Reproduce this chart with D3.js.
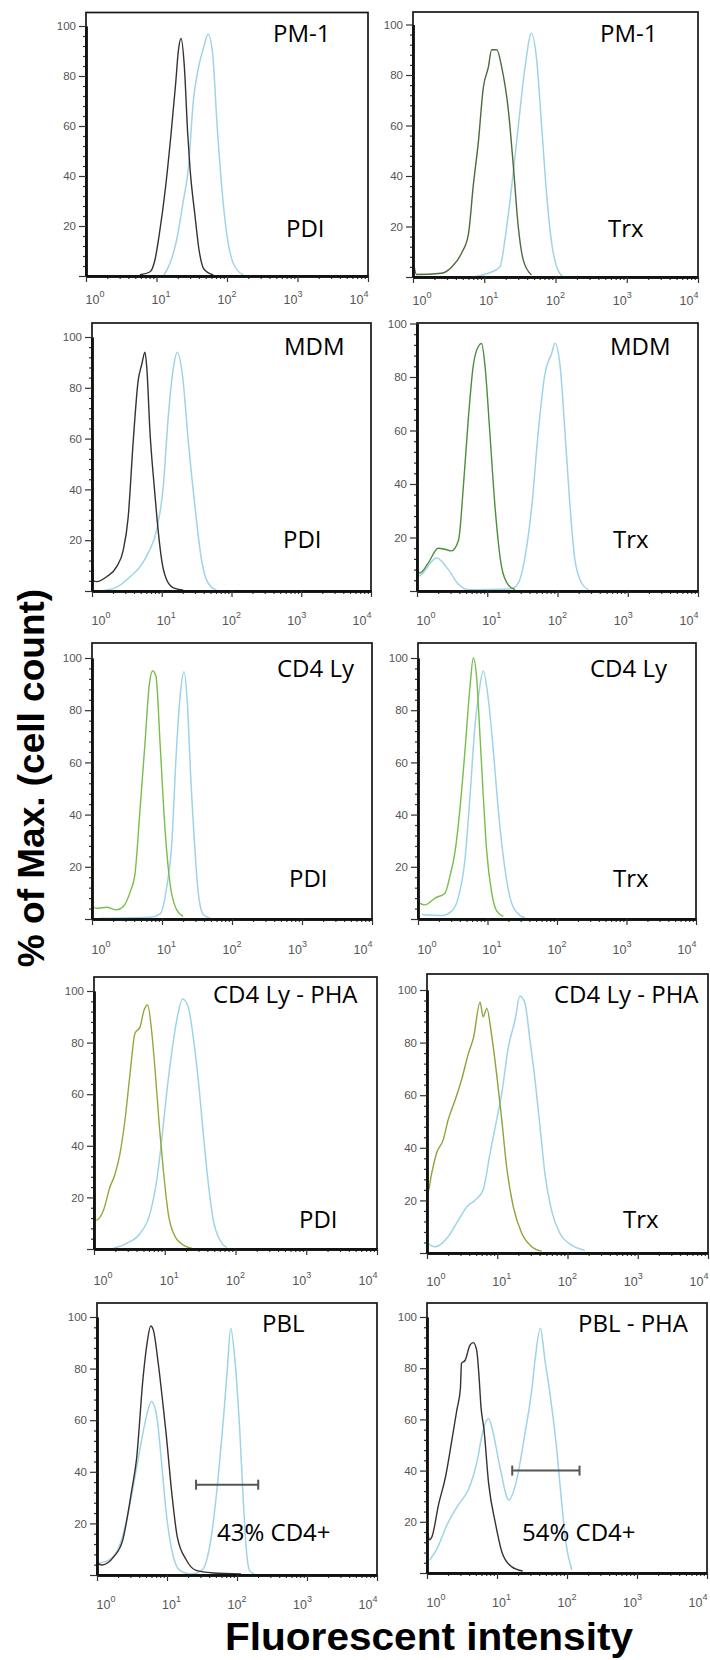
<!DOCTYPE html>
<html>
<head>
<meta charset="utf-8">
<script src="https://cdnjs.cloudflare.com/ajax/libs/d3/7.8.5/d3.min.js"></script>
<style>
body { margin: 0; background: #fff; }
svg { display: block; background: #fff; }
</style>
</head>
<body>
<svg id="chart"></svg>
<script>
const svgWidth = 710;
const svgHeight = 1660;

// panel texts, row by row (left, right)
const cellTypes = ["PM-1", "PM-1", "MDM", "MDM", "CD4 Ly", "CD4 Ly", "CD4 Ly - PHA", "CD4 Ly - PHA", "PBL", "PBL - PHA"];
const probeTexts = ["PDI", "Trx", "PDI", "Trx", "PDI", "Trx", "PDI", "Trx", "43% CD4+", "54% CD4+"];
const xExponents = [0, 1, 2, 3, 4];
const yTickValues = [0, 20, 40, 60, 80, 100];

// histograms: [fluorescent intensity, % of max]
const pm1PdiControl = [[5.8,0.5],[8.1,1.7],[9.5,6.4],[11,17],[13.5,36],[16.1,57],[18.7,77],[20.4,90],[22.3,95],[24.8,84],[27.7,57],[29.9,43],[35.2,24],[40,10.7],[47.2,2.7],[64,0.4]];
const pm1PdiStain = [[12.5,0],[15.5,5],[19.3,14.4],[24,30],[28.3,43],[33.3,70],[39.2,83],[46.1,91],[54,96.7],[62.7,88.7],[71.4,63],[84,36],[99,17],[123,5],[170,0.4]];
const pm1TrxControl = [[1,7],[1.12,1],[2.5,1.5],[3.5,4],[4.8,9.4],[6,17],[7,36],[8.3,54],[9.7,75],[11.4,83],[12.7,90],[15,90],[17.6,83],[21.8,66],[25.6,44],[30,20],[35.3,6.7],[46,0.8]];
const pm1TrxStain = [[6.7,0],[11.4,1.5],[16.6,4],[19.5,14.7],[24.3,36],[30,59.5],[37.3,83],[46,96.5],[54.4,86],[64,59.5],[75,33],[88.5,13.3],[104,4],[129,0]];
const mdmPdiControl = [[1,22],[1.04,4],[1.17,3.7],[1.62,5.6],[2.26,9.6],[2.8,16],[3.3,29],[3.9,59],[4.6,83],[5.15,89],[5.75,94],[6.1,88],[6.8,62],[7.75,42],[8.65,27],[10,12],[11.8,4.3],[14.7,1.2],[20.4,0.3]];
const mdmPdiStain = [[1.3,0],[2.26,1.5],[3.5,5.6],[4.9,9.6],[6.4,15],[8.45,24],[10.5,41],[12.4,68.6],[14.7,88],[16.7,94],[20,84],[24,59],[30,33],[37.3,12],[46.5,3],[61,0.3]];
const mdmTrxControl = [[1,8],[1.1,6.7],[1.45,10.5],[2,16],[2.5,15.6],[3.1,15],[3.9,19],[4.6,40],[5.4,65],[6.3,84],[7.5,91.5],[8.3,92.5],[9.3,84],[10.9,59],[12.9,31.5],[16,9],[20,2.2],[24.8,0.5]];
const mdmTrxStain = [[1,26],[1.05,5.6],[1.9,12.3],[2.8,8],[3.9,2.5],[5.4,0.5],[22.3,0.8],[27.7,3],[34.5,12.8],[43,31.5],[53,59],[66,81],[83,89],[92,92.6],[109,84],[128,59],[151,31.5],[177,11.6],[221,2.9],[275,0.5]];
const cd4PdiControl = [[1,18],[1.04,4.5],[1.17,4.1],[1.62,4.5],[2.25,3.5],[2.8,4.8],[3.5,10.3],[4.1,17],[4.85,41.8],[5.7,67],[6.6,90],[7.35,95],[8.2,93],[9.4,67],[11,35],[13,13.7],[16.2,3.5],[20,1]];
const cd4PdiStain = [[1.3,0.3],[6.7,0.7],[9.4,2],[11.7,12.4],[13.8,29],[15.8,61],[18.1,85],[20.6,94.7],[23,83],[25.7,54.5],[29.6,26.4],[33,9.8],[39,1.6],[48.5,0.3]];
const cd4TrxControl = [[1,8],[1.07,6],[1.26,5.4],[1.76,8],[2.45,10],[2.9,16.7],[3.4,25.5],[4,41.8],[4.75,64.8],[5.6,89],[6.25,100],[7,92],[7.8,70],[8.7,47],[9.7,26.6],[11.5,10],[13.6,3],[16.9,1]];
const cd4TrxStain = [[1.13,1.7],[2.2,1.3],[3.05,3],[3.8,8.2],[4.75,23],[5.6,47],[6.6,74],[7.55,87],[8.7,95],[10.3,84],[12.1,64.8],[14.3,41.8],[17.9,18.8],[22.3,6],[29.4,1.3],[34.7,0.5]];
const phaPdiControl = [[1,76],[1.03,11.2],[1.09,11.2],[1.36,15],[1.68,24],[1.98,29],[2.33,37],[2.74,50],[3.2,66.8],[3.8,83.6],[4.47,86],[5.1,92.6],[5.74,94.6],[6.5,84.9],[7.3,69.4],[8.4,47.4],[9.55,30.6],[11.2,13.8],[14,4.8],[18.3,1.5],[24,0.3]];
const phaPdiStain = [[1.88,0.3],[2.9,2.2],[4.47,6],[6.2,13.8],[7.7,26.7],[9.05,42],[10.6,60],[12.5,75.8],[14.8,88.8],[17.9,96.9],[21.5,93.8],[25.3,82],[29.8,65.5],[35,44.8],[41.3,25.4],[48.5,11.2],[60,3.5],[75,0.5]];
const phaTrxControl = [[1,62],[1.02,22.7],[1.16,30],[1.37,38],[1.7,43],[2,50.6],[2.5,58],[3.1,65.8],[3.9,76],[4.6,82],[5.7,95.4],[6.3,89.8],[7.1,93],[8.3,83],[9.8,68],[11.6,50.6],[13.6,32.8],[16.9,17.6],[22.3,7.5],[31,2.4],[43,0.7]];
const phaTrxStain = [[1.03,3.7],[1.3,2.4],[2,6.2],[2.8,12.5],[3.7,17.6],[4.8,20],[6.3,24],[7.9,38],[9.8,50.6],[11.6,60.7],[14.4,78.4],[17.9,88.5],[21,97.7],[24.8,95],[29.2,81],[34.5,65.8],[40.6,48],[47.8,30],[59.5,16],[78,7.5],[115,3],[177,1]];
const pblControl = [[1,14],[1.02,4.6],[1.18,3.9],[1.73,7],[2.33,13.5],[3.14,33],[3.66,44.6],[4.57,77],[5.2,90],[5.85,96.5],[6.37,95],[7.5,82],[8.85,65],[9.7,55],[11.7,31.8],[14,14.9],[18.9,5.8],[25.5,1.9],[46,0.8],[114,0.4]];
const pblStain = [[1.02,4.6],[1.48,5.8],[2.17,12.4],[2.91,26.5],[3.93,45.9],[5.08,61.4],[5.98,67.2],[7.15,61.4],[8.3,44.6],[9.65,25.2],[12,8.4],[15.1,1.9],[22,0.4],[31.9,2],[43,15],[53.9,38],[64.4,61.4],[72.6,79.5],[81.3,95.6],[93.6,83],[110,55],[123,29],[136,9.7],[153,1.5],[178,0.4]];
const pblPhaControl = [[1,18],[1.09,13],[1.17,14],[1.47,27],[1.84,37.6],[2.3,53],[2.67,63.7],[3,72],[3.11,82],[3.49,83],[4.11,89],[4.58,90],[5.13,87],[5.53,77],[5.9,65],[6.52,56],[7.59,35],[9.5,19.4],[11.9,7.7],[16.1,2.5],[23.3,0.8]];
const pblPhaStain = [[1.09,5],[1.36,9],[1.98,19.4],[2.87,27],[3.88,32.4],[5.23,44],[6.25,55.2],[7.59,60.4],[8.83,54.6],[11,41.5],[14.8,28.5],[18.6,35],[25.1,54.6],[31.4,71.5],[34.9,83],[41.6,95.6],[48.5,83],[57.2,70],[71.5,48],[83.2,28.5],[96.8,11.6],[117,1.2]];

// CD4+ gates: [from, to, % level]
const pblGate = [26, 201, 35];
const pblPhaGate = [16.5, 151, 40];

const controlCurves = [pm1PdiControl, pm1TrxControl, mdmPdiControl, mdmTrxControl, cd4PdiControl, cd4TrxControl, phaPdiControl, phaTrxControl, pblControl, pblPhaControl];
const stainCurves = [pm1PdiStain, pm1TrxStain, mdmPdiStain, mdmTrxStain, cd4PdiStain, cd4TrxStain, phaPdiStain, phaTrxStain, pblStain, pblPhaStain];
const gates = [null, null, null, null, null, null, null, null, pblGate, pblPhaGate];

// layout of the ten boxes
const boxes = [
	{x0: 86, x1: 368, top: 12.5, y0: 276, y100: 26, tickDy: 28},
	{x0: 413, x1: 698, top: 12, y0: 277, y100: 24.5, tickDy: 28},
	{x0: 92, x1: 371, top: 323, y0: 591, y100: 337, tickDy: 34},
	{x0: 417, x1: 698, top: 323, y0: 591, y100: 323.5, tickDy: 34},
	{x0: 92, x1: 372, top: 643, y0: 919, y100: 658, tickDy: 35},
	{x0: 418, x1: 696, top: 643, y0: 919, y100: 658, tickDy: 35},
	{x0: 94, x1: 377, top: 977, y0: 1249, y100: 991, tickDy: 36},
	{x0: 427, x1: 708, top: 974, y0: 1253, y100: 990, tickDy: 33},
	{x0: 97, x1: 377, top: 1303, y0: 1575, y100: 1317, tickDy: 34},
	{x0: 427, x1: 707, top: 1303, y0: 1573, y100: 1317, tickDy: 34}
];
const titleAt = [[273, 42], [600, 42], [284, 355], [610, 355], [277, 677], [590, 677], [213, 1003], [554, 1003], [262, 1332], [578, 1332]];
const probeAt = [[286, 237], [608, 237], [283, 548], [613, 548], [289, 887], [613, 887], [299, 1228], [623, 1228], [217, 1541], [522, 1541]];
const controlColors = ["#3a3030", "#4f6a3b", "#3a3030", "#4c8e3a", "#7bbd4a", "#7bbd4a", "#94a83c", "#8aa53a", "#3a3030", "#3a3030"];
const stainColor = "#9fd4e8";

const svg = d3.select("#chart")
				.attr("width", svgWidth)
				.attr("height", svgHeight);

let minorX = [];
xExponents.slice(0, -1).forEach(e => d3.range(2, 10).forEach(m => minorX.push(m * Math.pow(10, e))));
let minorY = d3.range(4, 100, 4).filter(v => v % 20 != 0);

boxes.forEach((b, i) => {
	let xScale = d3.scaleLog()
					.domain([1, 1e4])
					.range([b.x0, b.x1]);
	let yScale = d3.scaleLinear()
					.domain([0, 100])
					.range([b.y0, b.y100]);
	let g = svg.append("g");

	// frame
	g.append("rect")
		.attr("x", b.x0)
		.attr("y", b.top)
		.attr("width", b.x1 - b.x0)
		.attr("height", b.y0 - b.top)
		.attr("fill", "none")
		.attr("stroke", "#161616")
		.attr("stroke-width", 1.7);

	// histograms
	let line = d3.line()
					.x(d => xScale(d[0]))
					.y(d => yScale(d[1]))
					.curve(d3.curveMonotoneX);
	g.append("path")
		.datum(stainCurves[i])
		.attr("d", line)
		.attr("fill", "none")
		.attr("stroke", stainColor)
		.attr("stroke-width", 1.5);
	g.append("path")
		.datum(controlCurves[i])
		.attr("d", line)
		.attr("fill", "none")
		.attr("stroke", controlColors[i])
		.attr("stroke-width", 1.4);

	// x axis, log ticks
	g.append("g")
		.attr("transform", `translate(0, ${b.y0})`)
		.call(d3.axisBottom(xScale).tickValues(minorX).tickSize(3).tickSizeOuter(0).tickFormat(""));
	g.append("g")
		.attr("transform", `translate(0, ${b.y0})`)
		.call(d3.axisBottom(xScale).tickValues(xExponents.map(e => Math.pow(10, e))).tickSize(6).tickSizeOuter(0).tickFormat(""));

	// y axis
	g.append("g")
		.attr("transform", `translate(${b.x0}, 0)`)
		.call(d3.axisLeft(yScale).tickValues(minorY).tickSize(3).tickSizeOuter(0).tickFormat(""));
	g.append("g")
		.attr("class", "yaxis")
		.attr("transform", `translate(${b.x0}, 0)`)
		.call(d3.axisLeft(yScale).tickValues(yTickValues).tickSize(7).tickPadding(3).tickSizeOuter(0).tickFormat(d => d ? d : ""));

	g.selectAll(".domain")
		.attr("stroke", "#111")
		.attr("stroke-width", 2.4);
	g.selectAll(".tick line")
		.attr("stroke", "#333")
		.attr("stroke-width", 1.2);
	g.selectAll(".yaxis text")
		.attr("font-family", "'Liberation Sans', Arial, sans-serif")
		.attr("font-size", 11.5)
		.attr("fill", "#555");

	// decade labels, spread a bit inside the box like the original
	let labelStep = (b.x1 - b.x0 - 18) / 4;
	xExponents.forEach((e, k) => {
		let t = g.append("text")
					.attr("x", b.x0 + 9 + k * labelStep)
					.attr("y", b.y0 + b.tickDy)
					.attr("text-anchor", "middle")
					.attr("font-family", "'Liberation Sans', Arial, sans-serif")
					.attr("font-size", 12.5)
					.attr("fill", "#555");
		t.append("tspan").text("10");
		t.append("tspan").attr("dy", -7).attr("font-size", 9).text(e);
	});

	// gate bar
	if (gates[i]) {
		let gt = gates[i];
		let gy = yScale(gt[2]);
		g.append("line")
			.attr("x1", xScale(gt[0])).attr("x2", xScale(gt[1]))
			.attr("y1", gy).attr("y2", gy)
			.attr("stroke", "#555").attr("stroke-width", 2);
		[gt[0], gt[1]].forEach(v => {
			g.append("line")
				.attr("x1", xScale(v)).attr("x2", xScale(v))
				.attr("y1", gy - 5).attr("y2", gy + 5)
				.attr("stroke", "#555").attr("stroke-width", 2);
		});
	}

	// labels
	g.append("text")
		.text(cellTypes[i])
		.attr("x", titleAt[i][0])
		.attr("y", titleAt[i][1])
		.attr("font-family", "'Open Sans', sans-serif")
		.attr("font-size", 24)
		.attr("fill", "#000");
	g.append("text")
		.text(probeTexts[i])
		.attr("x", probeAt[i][0])
		.attr("y", probeAt[i][1])
		.attr("font-family", "'Open Sans', sans-serif")
		.attr("font-size", 24)
		.attr("fill", "#000");
});

// Axes labels
svg
	.append("text")
	.text("% of Max. (cell count)")
	.attr("transform", "translate(44, 778) rotate(-90)")
	.attr("text-anchor", "middle")
	.attr("font-family", "'Liberation Sans', Arial, sans-serif")
	.attr("font-weight", "bold")
	.attr("font-size", 37);

svg
	.append("text")
	.text("Fluorescent intensity")
	.attr("x", 429)
	.attr("y", 1650)
	.attr("text-anchor", "middle")
	.attr("font-family", "'Liberation Sans', Arial, sans-serif")
	.attr("font-weight", "bold")
	.attr("font-size", 38)
	.attr("textLength", 408)
	.attr("lengthAdjust", "spacingAndGlyphs");
</script>
</body>
</html>
